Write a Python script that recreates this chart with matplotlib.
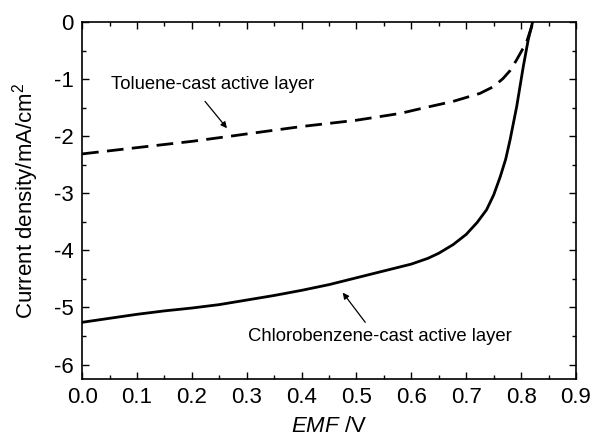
import matplotlib
matplotlib.use('Agg')
import matplotlib.pyplot as plt
from matplotlib.ticker import MultipleLocator

# J-V curves
v_cb = [0.0, 0.05, 0.1, 0.15, 0.2, 0.25, 0.3, 0.35, 0.4, 0.45, 0.5, 0.55, 0.6, 0.63, 0.65, 0.676,
        0.7, 0.72, 0.737, 0.75, 0.762, 0.772, 0.78, 0.792, 0.804, 0.813, 0.821]
j_cb = [-5.26, -5.19, -5.12, -5.06, -5.01, -4.95, -4.87, -4.79, -4.70, -4.60, -4.48, -4.36, -4.24,
        -4.14, -4.05, -3.90, -3.72, -3.51, -3.29, -3.03, -2.71, -2.40, -2.06, -1.48, -0.78, -0.31, 0.0]

v_tol = [0.0, 0.1, 0.2, 0.27, 0.3, 0.4, 0.5, 0.58, 0.62, 0.676, 0.725, 0.75, 0.767, 0.78, 0.792, 0.81, 0.822]
j_tol = [-2.31, -2.20, -2.09, -2.0, -1.96, -1.83, -1.72, -1.60, -1.51, -1.39, -1.25, -1.13, -0.99,
         -0.85, -0.66, -0.35, 0.0]

plt.rcParams['font.family'] = ['Liberation Sans', 'DejaVu Sans']
plt.rcParams['mathtext.fontset'] = 'custom'
plt.rcParams['mathtext.rm'] = 'Liberation Sans'
plt.rcParams['mathtext.it'] = 'Liberation Sans:italic'

fig = plt.figure(figsize=(5.95, 4.41), dpi=100)
ax = fig.add_axes([0.138, 0.141, 0.830, 0.809])

ax.plot(v_cb, j_cb, '-', color='black', lw=2.0)
ax.plot(v_tol, j_tol, '--', color='black', lw=2.0, dashes=(6, 3))

ax.set_xlim(0, 0.9)
ax.set_ylim(-6.25, 0)
ax.xaxis.set_minor_locator(MultipleLocator(0.05))
ax.yaxis.set_minor_locator(MultipleLocator(0.5))
ax.set_xticks([0.0, 0.1, 0.2, 0.3, 0.4, 0.5, 0.6, 0.7, 0.8, 0.9])
ax.set_xticklabels(['0.0', '0.1', '0.2', '0.3', '0.4', '0.5', '0.6', '0.7', '0.8', '0.9'])
ax.set_yticks([0, -1, -2, -3, -4, -5, -6])
ax.set_yticklabels(['0', '-1', '-2', '-3', '-4', '-5', '-6'])
ax.tick_params(which='both', direction='in', top=True, right=True, labelsize=16, width=1)
ax.tick_params(which='major', length=5, pad=6)
ax.tick_params(which='minor', length=3)
for s in ax.spines.values():
    s.set_linewidth(1.2)

ax.set_xlabel(r'$\it{EMF}$ /V', fontsize=16, labelpad=6)
ax.set_ylabel(r'Current density/mA/cm$^2$', fontsize=16, labelpad=9)

ax.text(0.053, -1.10, 'Toluene-cast active layer', fontsize=13.3, va='center', ha='left')
ax.text(0.302, -5.51, 'Chlorobenzene-cast active layer', fontsize=13.3, va='center', ha='left')
arrow = dict(arrowstyle='-|>', color='black', lw=0.9, mutation_scale=9, shrinkA=0, shrinkB=0)
ax.annotate('', xy=(0.264, -1.86), xytext=(0.224, -1.39), arrowprops=arrow)
ax.annotate('', xy=(0.475, -4.74), xytext=(0.516, -5.26), arrowprops=arrow)

fig.savefig('out.png', dpi=100)
